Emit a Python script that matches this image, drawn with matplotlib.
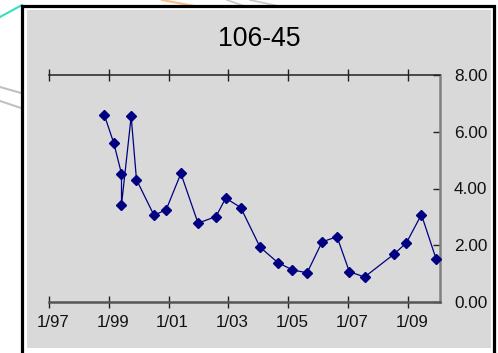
import matplotlib
matplotlib.use("Agg")
import matplotlib.pyplot as plt
import matplotlib.transforms as mtransforms
from matplotlib.patches import Rectangle
from matplotlib.lines import Line2D
import pandas as pd

plt.rcParams['font.family'] = ['Liberation Sans', 'DejaVu Sans']

title = "106-45"
dates = [
    "1998-11-06", "1999-03-03", "1999-06-05", "1999-06-05", "1999-10-01",
    "1999-12-05", "2000-07-05", "2000-12-01", "2001-05-30", "2001-12-25",
    "2002-08-01", "2002-11-28", "2003-05-30", "2004-01-22", "2004-08-25",
    "2005-02-20", "2005-08-18", "2006-02-17", "2006-08-18", "2007-01-15",
    "2007-07-20", "2008-07-15", "2008-12-13", "2009-06-13", "2009-12-10",
]
values = [
    6.60, 5.60, 4.52, 3.42, 6.54,
    4.31, 3.06, 3.25, 4.53, 2.78,
    3.01, 3.66, 3.33, 1.93, 1.39,
    1.13, 1.03, 2.12, 2.30, 1.07,
    0.88, 1.69, 2.09, 3.08, 1.51,
]
x_tick_dates = ["1997-01-01", "1999-01-01", "2001-01-01", "2003-01-01",
                "2005-01-01", "2007-01-01", "2009-01-01"]
x_tick_labels = ["1/97", "1/99", "1/01", "1/03", "1/05", "1/07", "1/09"]
y_ticks = [0, 2, 4, 6, 8]
y_tick_labels = ["0.00", "2.00", "4.00", "6.00", "8.00"]
x_start, x_end = "1997-01-01", "2010-01-26"

W, H = 498, 353
fig = plt.figure(figsize=(W / 100, H / 100), dpi=100)
fig.patch.set_facecolor("white")


def fx(px):
    return px / W


def fy(py):
    return 1 - py / H


# faint stray strokes around the chart frame
strays = [
    ((0, 17), (22, 5), "#33e0c0", 1.5),
    ((0, 87), (21, 93), "#c0c0c0", 1.5),
    ((0, 101), (21, 108), "#c0c0c0", 1.5),
    ((162, 0), (200, 7), "#f8c08a", 1.5),
    ((227, 0), (247, 7), "#c8c8c8", 1.2),
    ((250, 0), (283, 7), "#c8c8c8", 1.2),
    ((176, 353), (179, 346), "#c8c8c8", 1.0),
    ((181, 353), (184, 346), "#c8c8c8", 1.0),
]
for (x0, y0), (x1, y1), c, lw in strays:
    fig.add_artist(Line2D([fx(x0), fx(x1)], [fy(y0), fy(y1)], color=c, lw=lw,
                          transform=fig.transFigure, zorder=0))

# black frame and grey chart area
fig.add_artist(Rectangle((fx(22.3), fy(360)), fx(472), (360 - 5.5) / H,
                         transform=fig.transFigure, facecolor="white",
                         edgecolor="black", lw=2.3, zorder=1))
fig.add_artist(Rectangle((fx(27), fy(348)), fx(464), 338 / H,
                         transform=fig.transFigure, facecolor="#d9d9d9",
                         edgecolor="none", zorder=1))

ax = fig.add_axes([fx(49), fy(302), fx(440 - 49), (302 - 75) / H])
ax.set_facecolor("none")
ax.set_zorder(2)

xd = pd.to_datetime(dates)
ax.plot(xd, values, color="#000080", lw=0.9, marker="D", markersize=5.2,
        markerfacecolor="#000080", markeredgecolor="#000080", clip_on=False,
        zorder=3)

ax.set_xlim(pd.Timestamp(x_start), pd.Timestamp(x_end))
ax.set_ylim(0, 8)

ax.spines["left"].set_visible(False)
ax.spines["top"].set_color("#222222")
ax.spines["top"].set_linewidth(1.1)
ax.spines["bottom"].set_color("#555555")
ax.spines["bottom"].set_linewidth(1.8)
ax.spines["right"].set_color("#808080")
ax.spines["right"].set_linewidth(1.8)

ax.set_xticks(pd.to_datetime(x_tick_dates))
ax.set_xticklabels(x_tick_labels)
ax.tick_params(axis="x", direction="inout", length=8.5, width=1.0,
               color="#222222", top=True, bottom=True, labelsize=12.2,
               pad=5, labelcolor="#111111")
ax.yaxis.tick_right()
ax.set_yticks(y_ticks)
ax.set_yticklabels(y_tick_labels)
ax.tick_params(axis="y", direction="in", length=5, width=1.0,
               color="#222222", left=False, right=True, labelsize=12.4,
               pad=10, labelcolor="#111111")

offset = mtransforms.ScaledTranslation(4 / 100, 0, fig.dpi_scale_trans)
for lab in ax.get_xticklabels():
    lab.set_transform(lab.get_transform() + offset)

fig.text(fx(259.5), fy(39.5), title, ha="center", va="center",
         fontsize=19.2, color="black")

fig.savefig("out.png", dpi=100, facecolor=fig.get_facecolor())
